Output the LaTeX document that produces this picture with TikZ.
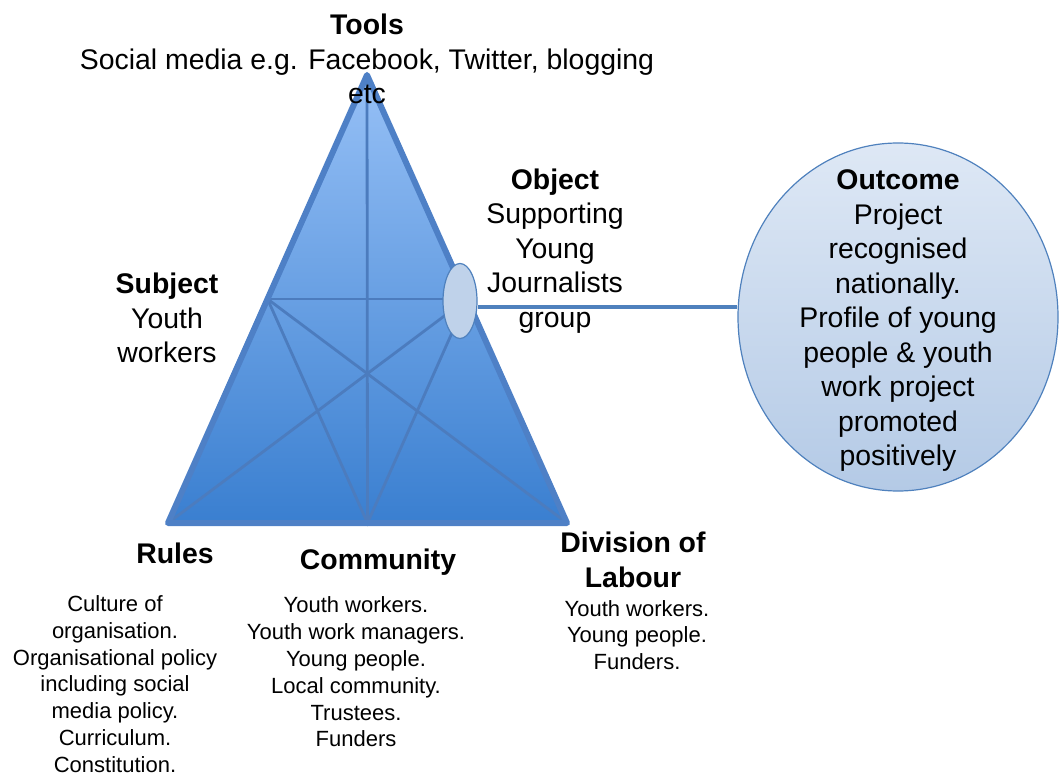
\documentclass[tikz,border=0pt]{standalone}
\usepackage{fontspec}
\setmainfont{Liberation Sans}
\usetikzlibrary{shapes.geometric}
\definecolor{triTop}{RGB}{150,192,246}
\definecolor{triBot}{RGB}{58,127,208}
\definecolor{edgeBlue}{RGB}{78,128,198}
\definecolor{lineBlue}{RGB}{76,124,190}
\definecolor{ovalEdge}{RGB}{79,129,189}
\definecolor{ovalTop}{RGB}{222,232,245}
\definecolor{ovalBot}{RGB}{180,202,230}
\def\bigtext{\fontsize{28.4}{34.5}\selectfont}
\def\smalltext{\fontsize{22}{26.8}\selectfont}

\begin{document}
\begin{tikzpicture}[x=1pt,y=-1pt,
		edge/.style={draw=edgeBlue, line width=6pt, line join=round},
		inner/.style={draw=lineBlue, line width=2.8pt},
		link/.style={draw=ovalEdge, line width=3pt},
		label/.style={font=\bigtext, align=center, inner sep=0pt},
		list/.style={font=\smalltext, align=center, inner sep=0pt}]
			%%%%% START %%%%%
			\useasboundingbox (0,0) rectangle (1059,775);
			
			% corners and side midpoints
			\coordinate (top) at (367,75);
			\coordinate (bl) at (168,523);
			\coordinate (br) at (567,523);
			\coordinate (lm) at (267.5,299);
			\coordinate (rm) at (467,299);
			\coordinate (bm) at (367.5,523);
			
			\shade[top color=triTop, bottom color=triBot] (top) -- (br) -- (bl) -- cycle;
			
			\draw[inner] (top) -- (bm);
			\draw[inner] (lm) -- (rm);
			\draw[inner] (lm) -- (bm) -- (rm);
			\draw[inner] (bl) -- (rm);
			\draw[inner] (br) -- (lm);
			
			\draw[edge] (top) -- (br) -- (bl) -- cycle;
			
			% object marker and outcome
			\node[ellipse, draw=ovalEdge, line width=1.2pt, fill=ovalBot!85!white,
				minimum width=34pt, minimum height=75pt, inner sep=0pt] (obj) at (460,301) {};
			\node[ellipse, draw=ovalEdge, line width=1.2pt, top color=ovalTop, bottom color=ovalBot,
				minimum width=320pt, minimum height=348pt, inner sep=0pt] (outcome) at (898,317) {};
			\draw[link] (obj.east) ++(0,6) -- (outcome.west |- 0,307);
			
			\node[label] (tools) at (367,59) {\textbf{Tools}\\Social media e.g. Facebook, Twitter, blogging\\etc};
			\node[label] (subject) at (167,318) {\textbf{Subject}\\Youth\\workers};
			\node[label] (object) at (555,251) {\textbf{Object}\\Supporting\\Young\\Journalists\\group};
			\node[label] (outtext) at (898,321) {\textbf{Outcome}\\Project\\recognised\\nationally.\\Profile of young\\people \& youth\\work project\\promoted\\positively};
			
			\node[label] (rules) at (175,553) {\textbf{Rules}};
			\node[label] (community) at (378,562) {\textbf{Community}};
			\node[label] (division) at (633,560) {\textbf{Division of}\\\textbf{Labour}};
			
			\node[list] (rulelist) at (115,684) {Culture of\\organisation.\\Organisational policy\\including social\\media policy.\\Curriculum.\\Constitution.};
			\node[list] (commlist) at (356,672) {Youth workers.\\Youth work managers.\\Young people.\\Local community.\\Trustees.\\Funders};
			\node[list] (divlist) at (637,635) {Youth workers.\\Young people.\\Funders.};
			%%%%% END %%%%%
\end{tikzpicture}
\end{document}
